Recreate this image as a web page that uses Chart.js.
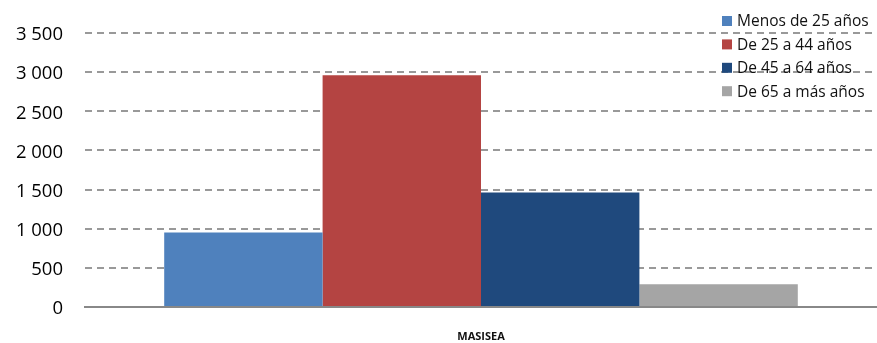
<!DOCTYPE html>
<html>
<head>
<meta charset="utf-8">
<script src="https://cdn.jsdelivr.net/npm/chart.js@4"></script>
<style>
  html, body { margin: 0; padding: 0; background: #fff; }
  #wrap { width: 877px; height: 343px; }
</style>
</head>
<body>
<div id="wrap"><canvas id="c" width="877" height="343"></canvas></div>
<script>
// data
const categories = ["MASISEA"];
const seriesNames = ["Menos de 25 años", "De 25 a 44 años", "De 45 a 64 años", "De 65 a más años"];
const seriesValues = [[953], [2962], [1462], [292]];
const seriesColors = ["#4f81bd", "#b44442", "#1f497d", "#a5a5a5"];
const yTicks = [0, 500, 1000, 1500, 2000, 2500, 3000, 3500];

const fontFamily = "'Open Sans', Lato, sans-serif";

// legend drawn inside the plot, top right, over the grid
const cornerLegend = {
  id: "cornerLegend",
  afterDatasetsDraw(chart) {
    const ctx = chart.ctx;
    ctx.save();
    ctx.font = "15.5px " + fontFamily;
    ctx.textBaseline = "middle";
    chart.data.datasets.forEach((ds, i) => {
      const y = 21 + i * 23.4;
      ctx.fillStyle = ds.backgroundColor;
      ctx.fillRect(722, y - 5, 10, 10);
      ctx.fillStyle = "#111";
      ctx.fillText(ds.label, 737, y + 1);
    });
    ctx.restore();
  }
};

const chart = new Chart(document.getElementById("c"), {
  type: "bar",
  data: {
    labels: categories,
    datasets: seriesNames.map((name, i) => ({
      label: name,
      data: seriesValues[i],
      backgroundColor: seriesColors[i],
      borderWidth: 0,
      categoryPercentage: 0.8,
      barPercentage: 1.0
    }))
  },
  options: {
    responsive: false,
    animation: false,
    layout: { padding: { top: 31, right: 0, left: 0, bottom: 0 } },
    plugins: {
      legend: { display: false },
      tooltip: { enabled: false }
    },
    scales: {
      x: {
        grid: { display: false, drawTicks: false },
        border: { display: true, color: "#888", width: 2 },
        ticks: {
          color: "#111",
          font: { family: fontFamily, size: 11, weight: "bold" },
          padding: 23
        },
        afterFit(scale) { scale.height = 36; }
      },
      y: {
        min: 0,
        max: 3500,
        afterBuildTicks(scale) { scale.ticks = yTicks.map(v => ({ value: v })); },
        grid: {
          drawTicks: false,
          color: (c) => c.tick && c.tick.value === 0 ? "rgba(0,0,0,0)" : "#999",
          lineWidth: 2
        },
        border: { display: false, dash: [7, 5] },
        ticks: {
          color: "#000",
          font: { family: fontFamily, size: 18.5 },
          padding: 22,
          labelOffset: 2,
          callback: (v) => String(v).replace(/\B(?=(\d{3})+(?!\d))/g, " ")
        },
        afterFit(scale) { scale.width = 85; }
      }
    }
  },
  plugins: [cornerLegend]
});
</script>
</body>
</html>
